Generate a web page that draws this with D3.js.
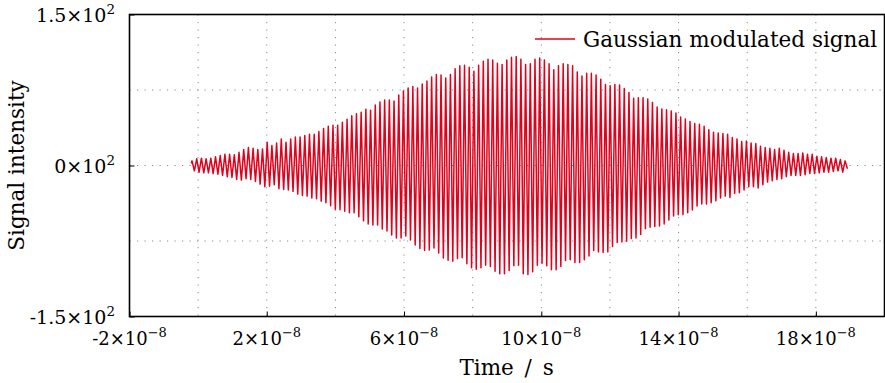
<!DOCTYPE html>
<html>
<head>
<meta charset="utf-8">
<script src="https://cdn.jsdelivr.net/npm/d3@7"></script>
<style>
  body { margin: 0; background: #fff; }
  text { font-family: "DejaVu Serif", serif; fill: #000; }
</style>
</head>
<body>
<div id="chart"></div>
<script>
// signal extremes, one per half cycle
const peaks = [
  4.6, 6.6, 7.3, 6.6, 7.3, 8.6, 9.9, 11.2, 11.2, 10.6, 13.2, 15.8, 17.8, 17.2, 15.8, 16.5, 23.1, 19.8, 22.4, 26.4,
  23.1, 26.4, 28.4, 28.4, 29.7, 31, 31, 33.7,
  36.7, 39, 40, 40, 43, 46, 49.5, 51.5, 53, 56, 55, 60, 63, 65, 65, 64, 70, 74, 77, 78.5, 77, 81, 84, 88, 90.5, 90,
  87, 90.5, 96,
  99, 99.7, 97.7, 93.7, 99.7, 103.6, 105.6, 104.9, 101.6, 100.3, 104.9, 107.6, 108.2, 105.6, 100.3, 101, 105.6,
  106.9, 104.9, 101, 95, 99, 101, 100.3, 99, 93, 89, 91.7,
  91.7, 89.8, 85.8, 80.5, 79.2, 80.5, 79.9, 76.6, 72.6, 66.7, 67.3, 67.3, 66, 62.7, 58.1, 56.1, 55.4, 54.1, 52.1,
  48.2, 46.2, 43.6, 41.6, 40.9, 38.9, 35.6, 33, 32.3, 31.7,
  31, 27.7, 26.4, 23.8, 24.4, 22.4, 21.8, 19.1, 17.8, 17.2, 15.8, 17.2, 15.2, 13.2, 11.9, 11.9, 12.5, 11.2, 11.2,
  9.2, 8.6, 7.9, 7.3, 7.3, 5.9, 4.6
];
const troughs = [
  -5.3, -6.6, -7.3, -7.3, -8, -8.6, -9.9, -11.2, -11.9, -13.9, -14.5, -13.2, -13.9, -15.8, -18.5, -21.1, -20.5,
  -19.1, -23.1, -23.8, -24.4, -25.7, -28.4, -29.7, -30.4, -32.3, -33, -35.6,
  -37, -40, -43.5, -44, -45.5, -47, -47, -51, -55, -58, -59, -59, -63, -65, -69, -72, -72, -70, -74, -79, -82.5,
  -84.5, -84, -82, -87, -92, -94, -95,
  -92.4, -91.7, -97.7, -101.6, -103, -101.6, -99, -100.3, -105, -107.6, -107.6, -104.3, -99.7, -99, -107.6, -108.2,
  -105.6, -99, -97, -99.7, -103.6, -103.6, -100.3, -94.4, -93.7, -96.4, -96.4, -93.7, -89.8,
  -84.5, -85.8, -86.5, -85.8, -80.5, -76.6, -75.9, -75.2, -72.6, -71.9, -68.6, -62.7, -61.4, -60.7, -60, -58, -54.1,
  -50.2, -48.8, -48.8, -46.9, -44.2, -40.3, -38.3, -38.3, -37, -35, -32.3,
  -30.4, -31.7, -27.7, -27, -24.4, -21.1, -21.1, -22.4, -19.1, -16.5, -15.2, -13.9, -13.2, -11.2, -9.9, -9.9, -9.9,
  -9.2, -7.9, -7.9, -7.3, -6.6, -6.6, -5.9, -5.3, -6.6, -3.3
];
const startPoint = [-0.2e-8, 2];   // first sample
const firstPeakTime = -0.178e-8;   // time of peaks[0]
const cycle = 1.369e-9;            // spacing between successive peaks

const xTicks = [-2e-8, 2e-8, 6e-8, 10e-8, 14e-8, 18e-8];
const xTickMantissa = ["-2", "2", "6", "10", "14", "18"];
const xGrid = [0, 2e-8, 4e-8, 6e-8, 8e-8, 10e-8, 12e-8, 14e-8, 16e-8, 18e-8];
const yTicks = [-150, 0, 150];
const yTickMantissa = ["-1.5", "0", "1.5"];
const yGrid = [-75, 0, 75];

const width = 885, height = 383;
const plot = { left: 129.5, right: 884.5, top: 14.5, bottom: 316.5 };
const red = "#e3001b";

const svg = d3.select("#chart").append("svg")
  .attr("width", width)
  .attr("height", height);

const x = d3.scaleLinear().domain([-2e-8, 2e-7]).range([plot.left, plot.right]);
const y = d3.scaleLinear().domain([-150, 150]).range([plot.bottom, plot.top]);

// grid
svg.append("g").selectAll("line")
  .data(xGrid)
  .join("line")
    .attr("x1", d => x(d)).attr("x2", d => x(d))
    .attr("y1", plot.top).attr("y2", plot.bottom)
    .attr("stroke", "#8a8a8a").attr("stroke-width", 1)
    .attr("stroke-dasharray", "1.2,6.3");
svg.append("g").selectAll("line")
  .data(yGrid)
  .join("line")
    .attr("x1", plot.left).attr("x2", plot.right)
    .attr("y1", d => y(d)).attr("y2", d => y(d))
    .attr("stroke", "#8a8a8a").attr("stroke-width", 1)
    .attr("stroke-dasharray", "1.2,6.3");

// signal
const pts = [startPoint];
peaks.forEach((p, i) => {
  pts.push([firstPeakTime + i * cycle, p]);
  pts.push([firstPeakTime + (i + 0.5) * cycle, troughs[i]]);
});
svg.append("path")
  .datum(pts)
  .attr("fill", "none")
  .attr("stroke", red)
  .attr("stroke-width", 1.5)
  .attr("stroke-linejoin", "round")
  .attr("d", d3.line().x(d => x(d[0])).y(d => y(d[1])));

// axes
const xAxis = svg.append("g")
  .attr("transform", `translate(0,${plot.bottom})`)
  .call(d3.axisBottom(x).tickValues(xTicks).tickSize(-5).tickFormat(""));
const yAxis = svg.append("g")
  .attr("transform", `translate(${plot.left},0)`)
  .call(d3.axisLeft(y).tickValues(yTicks).tickSize(-5).tickFormat(""));
[xAxis, yAxis].forEach(a => {
  a.select(".domain").remove();
  a.selectAll(".tick line").attr("stroke", "#000").attr("stroke-width", 1);
});

svg.append("rect")
  .attr("x", plot.left).attr("y", plot.top)
  .attr("width", plot.right - plot.left).attr("height", plot.bottom - plot.top)
  .attr("fill", "none").attr("stroke", "#000").attr("stroke-width", 1.6);

// tick labels
const xl = svg.append("g").selectAll("text")
  .data(xTicks)
  .join("text")
    .attr("x", d => x(d))
    .attr("y", 345)
    .attr("text-anchor", "middle")
    .style("font-size", "18px");
xl.append("tspan").text((d, i) => xTickMantissa[i] + "×10");
xl.append("tspan").attr("dy", -8).style("font-size", "13px").text("−8");

const yl = svg.append("g").selectAll("text")
  .data(yTicks)
  .join("text")
    .attr("x", 115)
    .attr("y", d => y(d) + 7)
    .attr("text-anchor", "end")
    .style("font-size", "19px");
yl.append("tspan").text((d, i) => yTickMantissa[i] + "×10");
yl.append("tspan").attr("dy", -8).style("font-size", "13.5px").text("2");

// axis labels
svg.append("text")
  .attr("x", x(8.9e-8) + 3).attr("y", 375)
  .attr("text-anchor", "middle")
  .style("font-size", "21.5px")
  .style("word-spacing", "4px")
  .text("Time / s");
svg.append("text")
  .attr("transform", `translate(24,${(plot.top + plot.bottom) / 2}) rotate(-90)`)
  .attr("text-anchor", "middle")
  .style("font-size", "21.5px")
  .text("Signal intensity");

// legend
const legend = svg.append("g").attr("transform", "translate(535,39)");
legend.append("line")
  .attr("x1", 0).attr("x2", 40)
  .attr("stroke", red).attr("stroke-width", 1.5);
legend.append("text")
  .attr("x", 48).attr("y", 8)
  .style("font-size", "21.5px")
  .text("Gaussian modulated signal");
</script>
</body>
</html>
